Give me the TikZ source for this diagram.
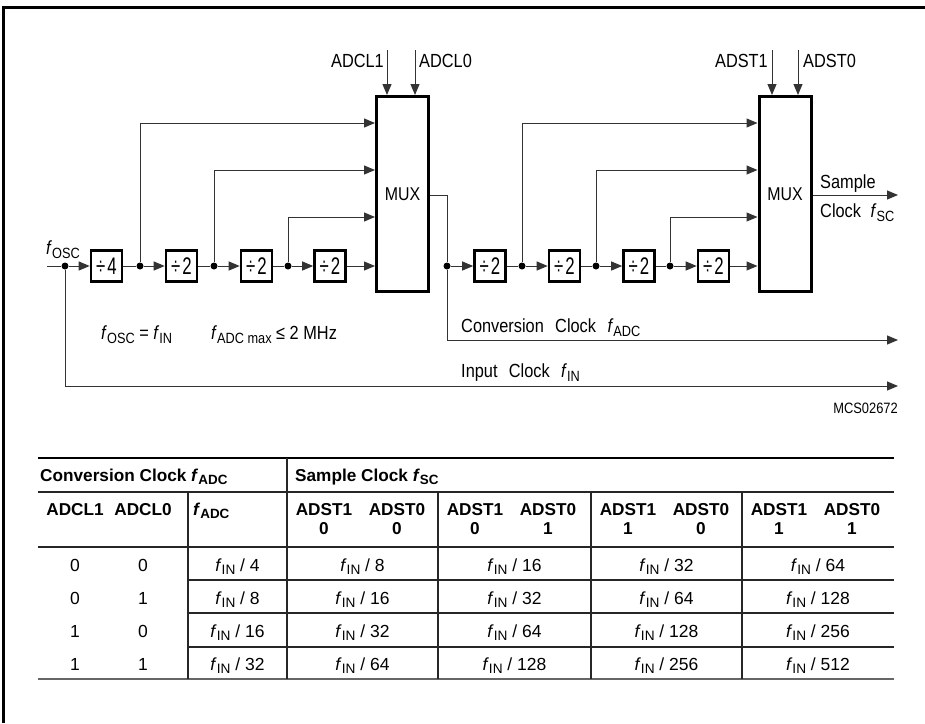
\documentclass[tikz,border=0pt]{standalone}
\usepackage{fontspec}
\setmainfont{Liberation Sans}
\newfontfamily\diagfont[FakeStretch=0.86]{Liberation Sans}
\newfontfamily\boxfont[FakeStretch=0.7]{Liberation Sans}
\usetikzlibrary{arrows.meta}
\newcommand\fsb[2]{\textit{#1}\raisebox{-0.4ex}{\scalebox{0.78}{#2}}}
\newcommand\dv[1]{÷\hspace{2pt}#1}
\begin{document}
\begin{tikzpicture}[x=1pt,y=-1pt,
  conn/.style={line width=1pt, draw=black!80},
  arr/.style={conn, -{Triangle[length=11pt,width=9pt]}},
  divbox/.style={draw, line width=2.6pt, minimum width=31pt, minimum height=31pt, inner sep=0pt, font=\boxfont\fontsize{24}{26}\selectfont},
  muxbox/.style={draw, line width=3pt, minimum width=52pt, minimum height=195pt, inner sep=0pt, font=\diagfont\fontsize{18.5}{20}\selectfont},
  dlabel/.style={font=\diagfont\fontsize{19}{21}\selectfont, inner sep=0pt},
  smalllabel/.style={font=\diagfont\fontsize{15}{16}\selectfont, inner sep=0pt},
  tval/.style={font=\fontsize{17.5}{20}\selectfont, inner sep=0pt, anchor=base},
  thead/.style={font=\bfseries\fontsize{17.2}{20}\selectfont, inner sep=0pt},
  tline/.style={line width=1.2pt, draw=black!85},
  dot/.style={circle, fill=black, inner sep=0pt, minimum size=7pt}
]
\useasboundingbox (0,0) rectangle (925,723);
% frame
\draw[line width=2.8pt] (3.7,723) -- (3.7,7.5) -- (925,7.5);

% divider chain
\node[divbox] (d1) at (106.5,266) {\dv{4}};
\node[divbox] (d2) at (181.5,266) {\dv{2}};
\node[divbox] (d3) at (256.5,266) {\dv{2}};
\node[divbox] (d4) at (330,266) {\dv{2}};
\node[muxbox] (mux1) at (402.5,194) {MUX};
\node[divbox] (d5) at (490,266) {\dv{2}};
\node[divbox] (d6) at (564.5,266) {\dv{2}};
\node[divbox] (d7) at (639,266) {\dv{2}};
\node[divbox] (d8) at (713.5,266) {\dv{2}};
\node[muxbox] (mux2) at (785,194) {MUX};

% junction dots
\node[dot] (j0) at (65,266) {};
\node[dot] (j1) at (140,266) {};
\node[dot] (j2) at (214,266) {};
\node[dot] (j3) at (288,266) {};
\node[dot] (j4) at (447,266) {};
\node[dot] (j5) at (522,266) {};
\node[dot] (j6) at (596,266) {};
\node[dot] (j7) at (670,266) {};

% free ends
\coordinate (in) at (47,266);
\coordinate (inout) at (898,386);
\coordinate (adcout) at (898,340);
\coordinate (scout) at (898,195);
\coordinate (c1) at (387,50);
\coordinate (c0) at (415,50);
\coordinate (c3) at (772,50);
\coordinate (c2) at (798,50);

% connectors, first stage
\draw[conn] (in) -- (j0);
\draw[arr] (j0) -- (d1);
\draw[arr] (j0) |- (inout);
\draw[conn] (d1) -- (j1);
\draw[arr] (j1) -- (d2);
\draw[conn] (d2) -- (j2);
\draw[arr] (j2) -- (d3);
\draw[conn] (d3) -- (j3);
\draw[arr] (j3) -- (d4);
\draw[arr] (d4.east) -- (mux1.west |- d4.east);
\draw[arr] (j1) |- (mux1.west |- 0,123);
\draw[arr] (j2) |- (mux1.west |- 0,170);
\draw[arr] (j3) |- (mux1.west |- 0,217);
\draw[arr] (c1) -- (c1 |- mux1.north);
\draw[arr] (c0) -- (c0 |- mux1.north);

% mux1 output
\draw[conn] (mux1.east |- 0,195) -| (j4);
\draw[arr] (j4) |- (adcout);
\draw[arr] (j4) -- (d5);
\draw[conn] (d5) -- (j5);
\draw[arr] (j5) -- (d6);
\draw[conn] (d6) -- (j6);
\draw[arr] (j6) -- (d7);
\draw[conn] (d7) -- (j7);
\draw[arr] (j7) -- (d8);
\draw[arr] (d8.east) -- (mux2.west |- d8.east);
\draw[arr] (j5) |- (mux2.west |- 0,123);
\draw[arr] (j6) |- (mux2.west |- 0,170);
\draw[arr] (j7) |- (mux2.west |- 0,217);
\draw[arr] (c3) -- (c3 |- mux2.north);
\draw[arr] (c2) -- (c2 |- mux2.north);
\draw[arr] (mux2.east |- scout) -- (scout);

% diagram labels
\node[dlabel, anchor=base east] (lcl1) at (384,67) {ADCL1};
\node[dlabel, anchor=base west] (lcl0) at (419,67) {ADCL0};
\node[dlabel, anchor=base east] (lst1) at (768,67) {ADST1};
\node[dlabel, anchor=base west] (lst0) at (803,67) {ADST0};
\node[dlabel, anchor=base west] (losc) at (46,254) {\fsb{f}{OSC}};
\node[dlabel, anchor=base west] (leq) at (101,339) {\fsb{f}{OSC} = \fsb{f}{IN}};
\node[dlabel, anchor=base west] (lmax) at (211,339) {\fsb{f}{ADC max} ≤ 2 MHz};
\node[dlabel, anchor=base west] (lsam) at (820,188) {Sample};
\node[dlabel, anchor=base west] (lclk) at (820,217) {Clock\hspace{0.5em}\fsb{f}{SC}};
\node[dlabel, anchor=base west] (lconv) at (461,332) {Conversion\hspace{0.6em}Clock\hspace{0.6em}\fsb{f}{ADC}};
\node[dlabel, anchor=base west] (linp) at (461,377) {Input\hspace{0.6em}Clock\hspace{0.6em}\fsb{f}{IN}};
\node[smalllabel, anchor=base east] (lid) at (898,413) {MCS02672};

% table lines
\draw[line width=1.4pt] (38,458) -- (894,458);
\draw[tline] (38,492) -- (894,492);
\draw[tline] (38,547) -- (894,547);
\foreach \yy in {580,613,647} \draw[tline] (188,\yy) -- (894,\yy);
\draw[line width=1.8pt, draw=black!60] (38,679) -- (894,679);
\draw[tline] (287,458) -- (287,679);
\foreach \xx in {188,438,591,742} \draw[tline] (\xx,492) -- (\xx,679);

% table headers
\node[thead, anchor=base west] (hconv) at (40,481) {Conversion Clock \fsb{f}{ADC}};
\node[thead, anchor=base west] (hsamp) at (295,481) {Sample Clock \fsb{f}{SC}};
\node[thead, anchor=base] (hcl1) at (75,515) {ADCL1};
\node[thead, anchor=base] (hcl0) at (143,515) {ADCL0};
\node[thead, anchor=base west] (hadc) at (193,515) {\fsb{f}{ADC}};
\foreach \cl/\da/\db [count=\k] in {287/0/0,438/0/1,591/1/0,742/1/1} {
  \node[thead, anchor=base] (hs\k a) at (\cl+37,515) {ADST1};
  \node[thead, anchor=base] (hs\k b) at (\cl+110,515) {ADST0};
  \node[thead, anchor=base] (hd\k a) at (\cl+37,534) {\da};
  \node[thead, anchor=base] (hd\k b) at (\cl+110,534) {\db};
}

% table body
\foreach \a/\b/\v/\w/\x/\y/\z [count=\r] in
  {0/0/4/8/16/32/64, 0/1/8/16/32/64/128, 1/0/16/32/64/128/256, 1/1/32/64/128/256/512} {
  \pgfmathsetmacro\bl{571+33*(\r-1)}
  \node[tval] (r\r a) at (75,\bl) {\a};
  \node[tval] (r\r b) at (143,\bl) {\b};
  \node[tval] (r\r c) at (237.5,\bl) {\fsb{f}{IN} / \v};
  \node[tval] (r\r d) at (362.5,\bl) {\fsb{f}{IN} / \w};
  \node[tval] (r\r e) at (514.5,\bl) {\fsb{f}{IN} / \x};
  \node[tval] (r\r f) at (666.5,\bl) {\fsb{f}{IN} / \y};
  \node[tval] (r\r g) at (818,\bl) {\fsb{f}{IN} / \z};
}
\end{tikzpicture}
\end{document}
